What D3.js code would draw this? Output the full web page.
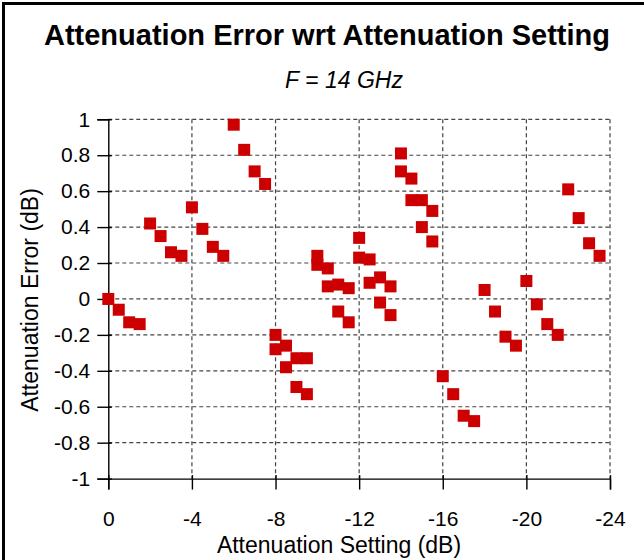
<!DOCTYPE html>
<html>
<head>
<meta charset="utf-8">
<script src="https://cdn.jsdelivr.net/npm/d3@7"></script>
<style>
  body { margin: 0; background: #fff; }
  text { font-family: "Liberation Sans", Arial, sans-serif; fill: #000; }
</style>
</head>
<body>
<div id="chart"></div>
<script>
var settings = [0, -0.5, -1, -1.5, -2, -2.5, -3, -3.5, -4, -4.5, -5, -5.5, -6, -6.5, -7, -7.5,
                -8, -8, -8.5, -8.5, -9, -9, -9.5, -9.5, -10, -10, -10.5, -10.5, -11, -11, -11.5, -11.5,
                -12, -12, -12.5, -12.5, -13, -13, -13.5, -13.5, -14, -14, -14.5, -14.5, -15, -15, -15.5, -15.5,
                -16, -16.5, -17, -17.5, -18, -18.5, -19, -19.5, -20, -20.5, -21, -21.5, -22, -22.5, -23, -23.5];
var errors = [0, -0.06, -0.13, -0.14, 0.42, 0.35, 0.26, 0.24, 0.51, 0.39, 0.29, 0.24, 0.97, 0.83, 0.71, 0.64,
              -0.20, -0.28, -0.26, -0.38, -0.33, -0.49, -0.33, -0.53, 0.24, 0.19, 0.17, 0.07, 0.08, -0.07, 0.06, -0.13,
              0.34, 0.23, 0.22, 0.09, 0.12, -0.02, 0.07, -0.09, 0.81, 0.71, 0.67, 0.55, 0.55, 0.40, 0.49, 0.32,
              -0.43, -0.53, -0.65, -0.68, 0.05, -0.07, -0.21, -0.26, 0.10, -0.03, -0.14, -0.20, 0.61, 0.45, 0.31, 0.24];
var xTicks = [0, -4, -8, -12, -16, -20, -24];
var yTicks = [1, 0.8, 0.6, 0.4, 0.2, 0, -0.2, -0.4, -0.6, -0.8, -1];

var width = 644, height = 560;
var plotLeft = 108.3, plotRight = 610, plotTop = 119.3, plotBottom = 478.6;

var svg = d3.select("#chart").append("svg")
            .attr("width", width)
            .attr("height", height);

// outer frame (only top and left edges show)
svg.append("rect")
   .attr("x", 3.5).attr("y", 3.5)
   .attr("width", 800).attr("height", 800)
   .attr("fill", "none").attr("stroke", "#000").attr("stroke-width", 3);

var x = d3.scaleLinear().domain([0, -24]).range([plotLeft, plotRight]);
var y = d3.scaleLinear().domain([-1, 1]).range([plotBottom, plotTop]);

// gridlines
svg.append("g")
   .selectAll("line")
   .data(yTicks.filter(function(d){ return d !== -1; }))
   .enter().append("line")
   .attr("x1", plotLeft).attr("x2", plotRight)
   .attr("y1", function(d){ return y(d); }).attr("y2", function(d){ return y(d); })
   .attr("stroke", "#444").attr("stroke-width", 1.2)
   .attr("stroke-dasharray", "4,3");

svg.append("g")
   .selectAll("line")
   .data(xTicks.filter(function(d){ return d !== 0; }))
   .enter().append("line")
   .attr("x1", function(d){ return x(d); }).attr("x2", function(d){ return x(d); })
   .attr("y1", plotTop).attr("y2", plotBottom)
   .attr("stroke", "#444").attr("stroke-width", 1.2)
   .attr("stroke-dasharray", "4,3");

// axes
var yAxis = svg.append("g")
   .attr("transform", "translate(" + plotLeft + ",0)")
   .call(d3.axisLeft(y).tickValues(yTicks).tickSize(11).tickPadding(7)
         .tickFormat(function(d){ return String(+d.toFixed(1)); }));
yAxis.selectAll(".tick line").attr("x1", 3.5);

var xAxis = svg.append("g")
   .attr("transform", "translate(0," + plotBottom + ")")
   .call(d3.axisBottom(x).tickValues(xTicks).tickSize(11).tickPadding(21)
         .tickFormat(function(d){ return String(d); }));
xAxis.selectAll(".tick line").attr("y1", -3.5);

svg.selectAll(".domain").attr("stroke", "#000").attr("stroke-width", 1.4);
svg.selectAll(".tick line").attr("stroke", "#000").attr("stroke-width", 1.4);
svg.selectAll(".tick text")
   .style("font-family", "'Liberation Sans', Arial, sans-serif")
   .style("font-size", "21px")
   .attr("fill", "#000");

// points
var sq = 12;
svg.append("g")
   .selectAll("rect")
   .data(settings)
   .enter().append("rect")
   .attr("x", function(d){ return x(d) - sq / 2; })
   .attr("y", function(d, i){ return y(errors[i]) - sq / 2; })
   .attr("width", sq).attr("height", sq)
   .attr("fill", "#cc0000");

// titles
svg.append("text")
   .attr("x", 327).attr("y", 45)
   .attr("text-anchor", "middle")
   .style("font-size", "29px").style("font-weight", "bold")
   .text("Attenuation Error wrt Attenuation Setting");

svg.append("text")
   .attr("x", 344).attr("y", 88)
   .attr("text-anchor", "middle")
   .style("font-size", "23px").style("font-style", "italic")
   .text("F = 14 GHz");

svg.append("text")
   .attr("x", 339).attr("y", 553)
   .attr("text-anchor", "middle")
   .style("font-size", "23px")
   .text("Attenuation Setting (dB)");

svg.append("text")
   .attr("transform", "translate(38,300) rotate(-90)")
   .attr("text-anchor", "middle")
   .style("font-size", "23px")
   .text("Attenuation Error (dB)");
</script>
</body>
</html>
